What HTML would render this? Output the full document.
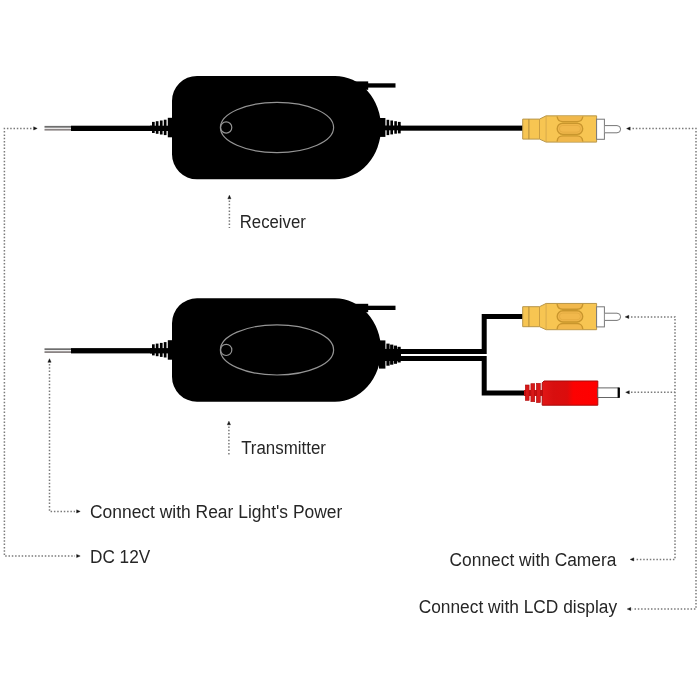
<!DOCTYPE html>
<html><head><meta charset="utf-8">
<style>
html,body{margin:0;padding:0;background:#fff;width:700px;height:700px;overflow:hidden}
svg{display:block;will-change:transform}
text{font-family:"Liberation Sans",sans-serif;fill:#262626}
</style></head><body>
<svg width="700" height="700" viewBox="0 0 700 700">
<defs>
  <!-- common device body (receiver coords) -->
  <g id="body">
    <path d="M197,75.9 H335 A46,51.7 0 0 1 335,179.3 H197 A25,25 0 0 1 172,154.3 V100.9 A25,25 0 0 1 197,75.9 Z" fill="#000"/>
    <rect x="350.5" y="81.4" width="17.7" height="8.4" fill="#000"/>
    <rect x="367" y="83.3" width="28.5" height="4.3" fill="#000"/>
    <ellipse cx="277" cy="127.5" rx="56.6" ry="25.1" fill="none" stroke="#949494" stroke-width="1.2"/>
    <circle cx="226.2" cy="127.5" r="5.6" fill="none" stroke="#949494" stroke-width="1.2"/>
    <!-- left strain relief -->
    <rect x="167.8" y="117.8" width="5" height="19.5" fill="#000"/>
    <rect x="152" y="121.9" width="2.7" height="11.1" fill="#000"/>
    <rect x="155.8" y="121.2" width="2.7" height="12.6" fill="#000"/>
    <rect x="159.9" y="120.5" width="2.7" height="14" fill="#000"/>
    <rect x="163.8" y="119.7" width="2.7" height="15.4" fill="#000"/>
    <rect x="150" y="125.7" width="18" height="5.3" fill="#000"/>
    <!-- left cable -->
    <rect x="71" y="125.7" width="81" height="5.3" fill="#000"/>
    <rect x="44.5" y="125.9" width="26.5" height="1.8" fill="#6e6e6e"/>
    <rect x="44.5" y="128.8" width="26.5" height="1.8" fill="#8a8484"/>
  </g>
  <!-- RCA connector, centred at y=0 -->
  <g id="rca">
    <path d="M522.7,-9.9 H539.5 L546.1,-13.15 H596.6 V13.1 H546.1 L539.5,10.1 H522.7 Z" fill="#f7c552" stroke="#b8964a" stroke-width="1"/>
    <line x1="528.9" y1="-9.9" x2="528.9" y2="10.1" stroke="#b08a3a" stroke-width="1"/>
    <line x1="539.5" y1="-9.9" x2="539.5" y2="10.1" stroke="#c59a40" stroke-width="0.9"/>
    <line x1="546.1" y1="-13.15" x2="546.1" y2="13.1" stroke="#d0a54a" stroke-width="0.8"/>
    <path d="M557.2,-12.6 V-12.0 A5.5,5.5 0 0 0 562.7,-7.4 H577.2 A5.5,5.5 0 0 0 582.7,-12.0 V-12.6" fill="#f1b84c" stroke="#c9962d" stroke-width="1.4"/>
    <rect x="557.2" y="-5.8" width="25.5" height="11.2" rx="5.6" ry="5.6" fill="#f1b84c" stroke="#c9962d" stroke-width="1.4"/>
    <rect x="559.4" y="-3.6" width="21.1" height="6.8" rx="3.4" ry="3.4" fill="none" stroke="#e2aa40" stroke-width="0.8"/>
    <path d="M557.2,12.6 V12.0 A5.5,5.5 0 0 1 562.7,6.9 H577.2 A5.5,5.5 0 0 1 582.7,12.0 V12.6" fill="#f1b84c" stroke="#c9962d" stroke-width="1.4"/>
    <rect x="596.6" y="-9.8" width="7.8" height="20.1" fill="#fff" stroke="#777" stroke-width="1"/>
    <path d="M604.9,-3.4 H617 A3.6,3.6 0 0 1 617,3.8 H604.9" fill="#fff" stroke="#777" stroke-width="1"/>
  </g>
  <linearGradient id="redg" x1="0" x2="1" y1="0" y2="0">
    <stop offset="0" stop-color="#e21616"/>
    <stop offset="0.2" stop-color="#d80f0f"/>
    <stop offset="0.45" stop-color="#dc0c0c"/>
    <stop offset="0.56" stop-color="#fc0202"/>
    <stop offset="1" stop-color="#ff0000"/>
  </linearGradient>
</defs>

<!-- ===== Receiver ===== -->
<use href="#body"/>
<!-- right relief -->
<rect x="379" y="118" width="6.4" height="18.9" fill="#000"/>
<rect x="386.6" y="119.8" width="2.6" height="15.3" fill="#000"/>
<rect x="390.4" y="120.5" width="2.6" height="13.9" fill="#000"/>
<rect x="394.3" y="121.2" width="2.6" height="12.5" fill="#000"/>
<rect x="397.9" y="121.9" width="2.8" height="11.5" fill="#000"/>
<rect x="385" y="125.5" width="16" height="4.8" fill="#000"/>
<rect x="400" y="125.6" width="123" height="5.1" fill="#000"/>
<use href="#rca" transform="translate(0,129.0)"/>

<!-- ===== Transmitter ===== -->
<use href="#body" transform="translate(0,222.4)"/>
<rect x="379" y="340.4" width="6.4" height="28.2" fill="#000"/>
<rect x="386.4" y="343.6" width="3.2" height="22.1" fill="#000"/>
<rect x="390.1" y="344.6" width="3.2" height="20.1" fill="#000"/>
<rect x="393.8" y="345.6" width="3.2" height="18.2" fill="#000"/>
<rect x="397.5" y="346.8" width="3.2" height="15.7" fill="#000"/>
<rect x="385" y="348.9" width="16" height="12.1" fill="#000"/>
<!-- double cable & split -->
<path d="M400,351.4 H484.2 V316.5 H523" fill="none" stroke="#000" stroke-width="5"/>
<path d="M400,358.5 H484.2 V393 H526" fill="none" stroke="#000" stroke-width="5"/>
<use href="#rca" transform="translate(0,316.6)"/>
<!-- red DC plug -->
<rect x="524" y="390" width="19" height="6" fill="#c81010"/>
<rect x="525.3" y="385" width="3.8" height="15.4" fill="#d81818" stroke="#b00d0d" stroke-width="0.6"/>
<rect x="530.9" y="383.7" width="3.8" height="18" fill="#d81818" stroke="#b00d0d" stroke-width="0.6"/>
<rect x="536.4" y="383.3" width="3.9" height="19.3" fill="#d81818" stroke="#b00d0d" stroke-width="0.6"/>
<path d="M544,381 H597.8 V405.2 H542.2 V382.8 Z" fill="url(#redg)" stroke="#a80a0a" stroke-width="1"/>
<rect x="597.8" y="387.9" width="21" height="9.6" fill="#fff" stroke="#555" stroke-width="0.9"/>
<rect x="617.6" y="387.6" width="2.3" height="10.2" fill="#000"/>

<!-- ===== Dotted guide lines ===== -->
<g fill="none" stroke="#7a7a7a" stroke-width="1.5" stroke-dasharray="1.5 1.8">
  <path d="M31.5,128.5 H4.4 V556 H75"/>
  <path d="M49.5,364 V511.4 H75"/>
  <path d="M229.4,200.5 V228"/>
  <path d="M228.9,426.5 V455"/>
  <path d="M632.5,128.6 H696 V609 H632.5"/>
  <path d="M631,316.9 H675 V559.4 H635.5"/>
  <path d="M631,392.2 H675"/>
</g>
<g fill="#111" stroke="#111" stroke-width="0.4" stroke-linejoin="round">
  <path d="M37.2,128.4 L33.6,126.8 V130.0 Z"/>
  <path d="M80.2,556.0 L76.6,554.4 V557.6 Z"/>
  <path d="M80.2,511.4 L76.6,509.8 V513.0 Z"/>
  <path d="M49.5,358.7 L47.9,362.3 H51.1 Z"/>
  <path d="M229.4,195.2 L227.8,198.8 H231.0 Z"/>
  <path d="M228.9,421.2 L227.3,424.8 H230.5 Z"/>
  <path d="M626.6,128.6 L630.2,127.0 V130.2 Z"/>
  <path d="M625.2,316.9 L628.8,315.3 V318.5 Z"/>
  <path d="M625.7,392.3 L629.3,390.7 V393.9 Z"/>
  <path d="M630.2,559.4 L633.8,557.8 V561.0 Z"/>
  <path d="M627.2,609.0 L630.8,607.4 V610.6 Z"/>
</g>

<!-- ===== Labels ===== -->
<g font-size="17.6" fill="#222">
<text x="239.7" y="227.7" textLength="66.2" lengthAdjust="spacingAndGlyphs">Receiver</text>
<text x="241.2" y="453.9" textLength="84.7" lengthAdjust="spacingAndGlyphs">Transmitter</text>
<text x="90.0" y="517.5" textLength="252.3" lengthAdjust="spacingAndGlyphs">Connect with Rear Light's Power</text>
<text x="90.0" y="562.5" textLength="60.2" lengthAdjust="spacingAndGlyphs">DC 12V</text>
<text x="449.6" y="565.9" textLength="166.8" lengthAdjust="spacingAndGlyphs">Connect with Camera</text>
<text x="418.7" y="612.8" textLength="198.4" lengthAdjust="spacingAndGlyphs">Connect with LCD display</text>
</g>
</svg>
</body></html>
